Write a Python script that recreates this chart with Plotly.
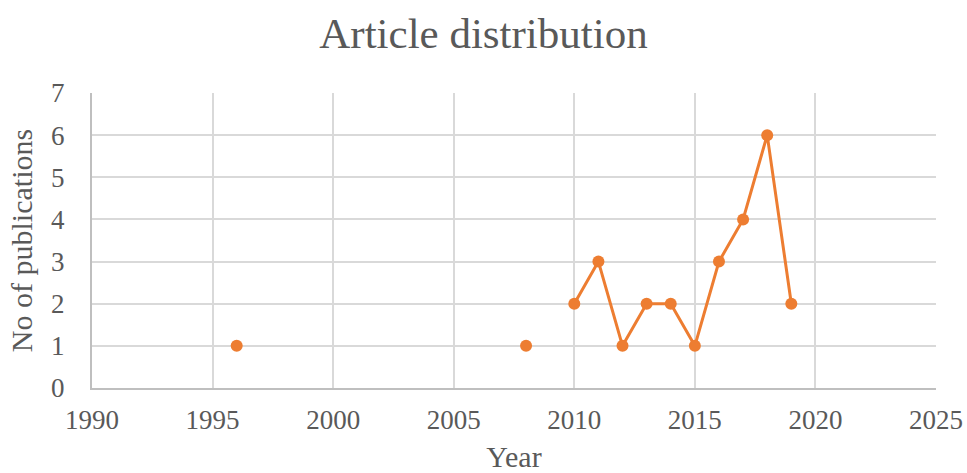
import plotly.graph_objects as go

years = [1996, 1997, 2008, 2009, 2010, 2011, 2012, 2013, 2014, 2015, 2016, 2017, 2018, 2019]
counts = [1, None, 1, None, 2, 3, 1, 2, 2, 1, 3, 4, 6, 2]

fig = go.Figure(go.Scatter(
    x=years, y=counts, mode="lines+markers",
    line=dict(color="#ED7D31", width=3),
    marker=dict(color="#ED7D31", size=12),
    connectgaps=False,
))

fig.update_layout(
    width=967, height=473,
    margin=dict(l=92, r=31, t=93, b=85),
    paper_bgcolor="white", plot_bgcolor="white",
    font=dict(family="Liberation Serif", color="#595959"),
    title=dict(text="Article distribution", x=0.5, xanchor="center", y=1 - 33 / 473, yanchor="middle",
               font=dict(size=43, color="#595959")),
    showlegend=False,
)
fig.update_xaxes(range=[1990, 2025], dtick=5, tick0=1990, showgrid=True, gridcolor="#D9D9D9", gridwidth=1.5,
                 showline=True, linecolor="#BFBFBF", linewidth=2, zeroline=False, automargin=False,
                 tickfont=dict(size=27, color="#595959"), ticks="outside", ticklen=7, tickcolor="rgba(0,0,0,0)",
                 title=dict(text="Year", font=dict(size=30, color="#595959"), standoff=20))
fig.update_yaxes(range=[0, 7], dtick=1, showgrid=True, gridcolor="#D9D9D9", gridwidth=1.5,
                 showline=True, linecolor="#BFBFBF", linewidth=2, zeroline=False, automargin=False,
                 tickfont=dict(size=27, color="#595959"), ticks="outside", ticklen=20, tickcolor="rgba(0,0,0,0)",
                 title=dict(text="No of publications", font=dict(size=30, color="#595959"), standoff=10))
fig.write_html("out.html")
